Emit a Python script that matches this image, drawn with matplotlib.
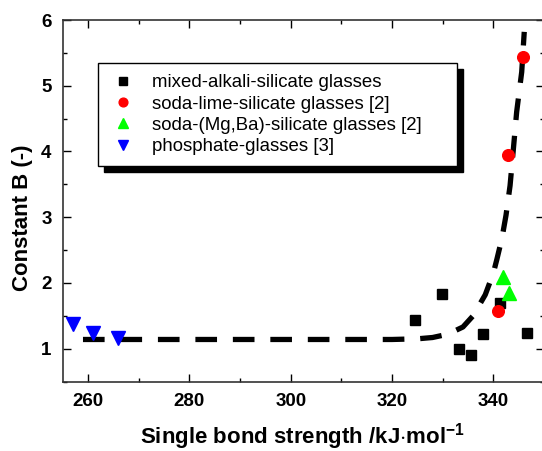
import matplotlib
matplotlib.use("Agg")
import matplotlib.pyplot as plt
from matplotlib.ticker import MultipleLocator

plt.rcParams['font.family'] = ['Liberation Sans', 'DejaVu Sans']
plt.rcParams['mathtext.fontset'] = 'custom'
plt.rcParams['mathtext.rm'] = 'Liberation Sans:bold'
plt.rcParams['mathtext.bf'] = 'Liberation Sans:bold'
plt.rcParams['mathtext.it'] = 'Liberation Sans:bold'

# data
mixed_x = [324.5, 329.9, 333.2, 335.5, 338.0, 341.3, 346.6]
mixed_y = [1.44, 1.83, 1.00, 0.90, 1.22, 1.69, 1.24]
sodalime_x = [341.0, 342.8, 345.9]
sodalime_y = [1.57, 3.94, 5.44]
mgba_x = [342.0, 343.1]
mgba_y = [2.09, 1.84]
phos_x = [257.0, 261.0, 266.0]
phos_y = [1.38, 1.24, 1.17]
fit_x = [259, 270, 280, 290, 300, 310, 320, 325, 328, 331, 334, 336, 338.4,
         340, 340.7, 341.7, 342.5, 343.3, 343.9, 344.6, 345.6, 346.1]
fit_y = [1.14, 1.14, 1.14, 1.14, 1.14, 1.14, 1.14, 1.15, 1.17, 1.22, 1.33, 1.5,
         1.82, 2.15, 2.36, 2.68, 3.03, 3.48, 3.99, 4.6, 5.21, 5.82]
labels = ["mixed-alkali-silicate glasses", "soda-lime-silicate glasses [2]",
          "soda-(Mg,Ba)-silicate glasses [2]", "phosphate-glasses [3]"]

fig = plt.figure(figsize=(5.42, 4.51), dpi=100)
ax = fig.add_axes([0.1157, 0.154, 0.888, 0.8016])

ax.plot(fit_x, fit_y, color='k', lw=3.8, ls=(0, (4.1, 3.0)), zorder=2)
h1, = ax.plot(mixed_x, mixed_y, 's', color='k', ms=7.2, ls='none', zorder=3)
h2, = ax.plot(sodalime_x, sodalime_y, 'o', color='#ff0000', ms=8.4, ls='none', zorder=3)
h3, = ax.plot(mgba_x, mgba_y, '^', color='#00ff00', ms=10, ls='none', zorder=3)
h4, = ax.plot(phos_x, phos_y, 'v', color='#0000ff', ms=10, ls='none', zorder=3)

ax.set_xlim(255, 350)
ax.set_ylim(0.5, 6)
ax.xaxis.set_major_locator(MultipleLocator(20))
ax.xaxis.set_minor_locator(MultipleLocator(10))
ax.yaxis.set_major_locator(MultipleLocator(1))
ax.yaxis.set_minor_locator(MultipleLocator(0.5))
ax.tick_params(which='both', direction='in', top=True, right=True, width=1)
ax.tick_params(which='major', length=6, labelsize=13.5, pad=8)
ax.tick_params(which='minor', length=3)
for lab in ax.get_xticklabels() + ax.get_yticklabels():
    lab.set_fontweight('bold')
for s in ax.spines.values():
    s.set_linewidth(1.2)
    s.set_color('#333333')

ax.set_xlabel(r"Single bond strength /kJ$\cdot$mol$^{-1}$", fontsize=16, fontweight='bold')
ax.xaxis.set_label_coords(0.4985, -0.1535)
ax.xaxis.label.set_va('center')
ax.set_ylabel("Constant B (-)", fontsize=16, fontweight='bold')
ax.yaxis.set_label_coords(-0.062, 0.4537)

leg = ax.legend([h1, h2, h3, h4], labels, loc='upper left',
                bbox_to_anchor=(0.0733, 0.5, 0.746, 0.381), mode='expand',
                borderaxespad=0, prop={'size': 13.4}, frameon=True, fancybox=False,
                shadow={'color': 'k', 'alpha': 1, 'ox': 4, 'oy': -4},
                labelspacing=0.23, handletextpad=0.8, borderpad=0.6,
                handlelength=1.5, markerscale=0.75)
leg.get_frame().set_edgecolor('k')
leg.get_frame().set_linewidth(1.0)

fig.savefig("out.png", dpi=100)
